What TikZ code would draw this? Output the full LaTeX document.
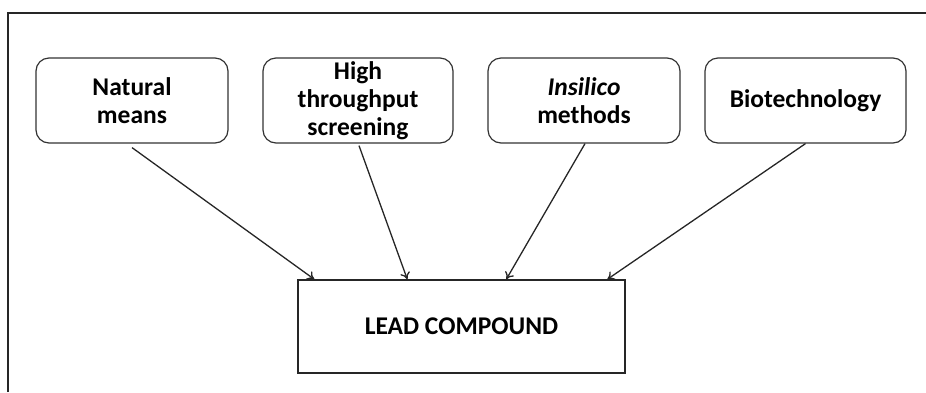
\documentclass[tikz,border=0pt]{standalone}
\usepackage{fontspec}
\setmainfont{Carlito}
\usetikzlibrary{arrows.meta,calc}
\begin{document}
\begin{tikzpicture}[x=1pt,y=-1pt,
  srcbox/.style={draw=black!80, line width=1.2pt, rounded corners=13pt, minimum height=85pt, align=center, font=\fontsize{25.5}{28}\selectfont\bfseries, inner sep=0pt},
  leadbox/.style={draw=black!85, line width=1.4pt, minimum width=327pt, minimum height=93pt, font=\fontsize{25.5}{28}\selectfont\bfseries, inner sep=0pt},
  link/.style={draw=black!85, line width=1.3pt, -{To[length=7pt,width=10pt]}}]
\useasboundingbox (0,0) rectangle (926,392);
\coordinate (fbl) at (8,392);
\coordinate (ftl) at (8,13);
\coordinate (ftr) at (926,13);
\draw[black!85, line width=1.7pt] (fbl) -- (ftl) -- (ftr);
\node[srcbox, minimum width=192pt] (n1) at (132,100.5) {Natural\\means};
\node[srcbox, minimum width=190pt] (n2) at (358,100.5) {High\\throughput\\screening};
\node[srcbox, minimum width=192pt] (n3) at (584,100.5) {\textit{Insilico}\\methods};
\node[srcbox, minimum width=201pt] (n4) at (805.5,100.5) {Biotechnology};
\node[leadbox] (lead) at (461.5,326.5) {LEAD COMPOUND};
\draw[link] ($(n1.south)+(0,4)$) -- ($(lead.north west)+(17,0)$);
\draw[link] ($(n2.south)+(1,2)$) -- ($(lead.north west)+(110,0)$);
\draw[link] ($(n3.south)+(1,0)$) -- ($(lead.north west)+(209,0)$);
\draw[link] ($(n4.south)+(0,0)$) -- ($(lead.north west)+(310,0)$);
\end{tikzpicture}
\end{document}
